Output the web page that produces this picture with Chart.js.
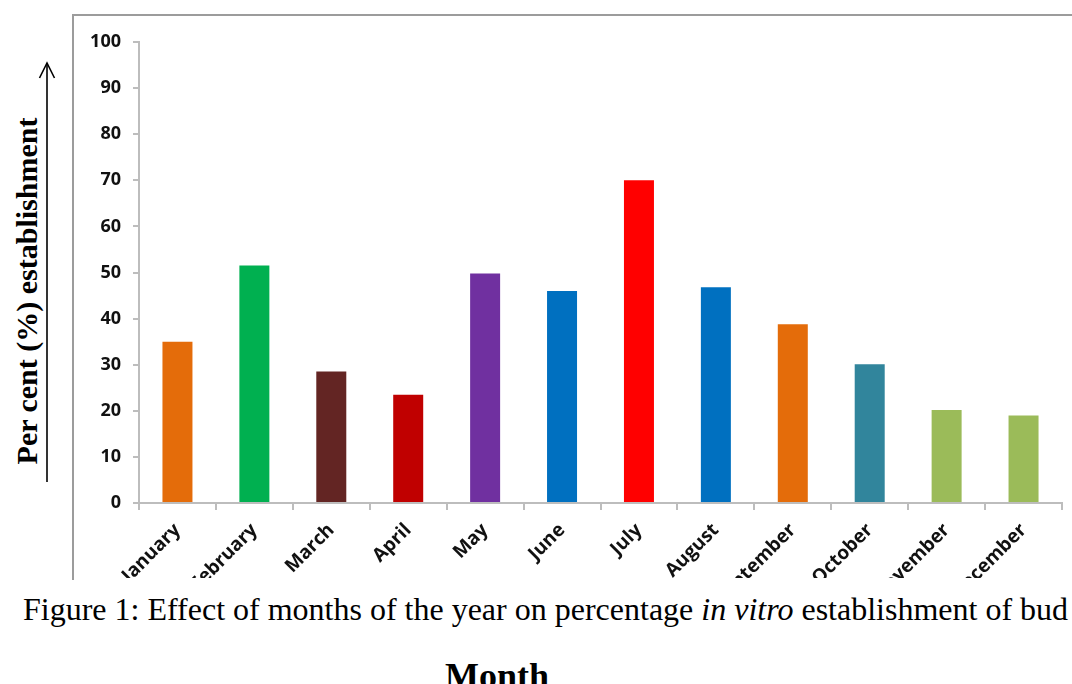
<!DOCTYPE html>
<html>
<head>
<meta charset="utf-8">
<script src="https://cdn.jsdelivr.net/npm/chart.js@4"></script>
<style>
  html, body { margin:0; padding:0; background:#fff; width:1072px; height:684px; overflow:hidden; position:relative; }
  #box { position:absolute; left:72px; top:14px; width:1010px; height:564px; border-left:2px solid #9c9c9c; border-top:2px solid #9c9c9c; overflow:hidden; }
  #c { position:absolute; left:0; top:0; }
  .serif { font-family:"Liberation Serif","Times New Roman",serif; color:#000; position:absolute; white-space:nowrap; line-height:1; }
  #ytitle { left:27px; top:291px; font-size:30px; font-weight:bold; transform:translate(-50%,-50%) rotate(-90deg); }
  #caption { left:23px; top:593px; font-size:32px; }
  #month { left:445px; top:658px; font-size:36px; font-weight:bold; }
  #arrow { position:absolute; left:30px; top:54px; }
</style>
</head>
<body>
<div id="ytitle" class="serif">Per cent (%) establishment</div>
<svg id="arrow" width="34" height="440">
  <line x1="17" y1="9" x2="17" y2="428" stroke="#000" stroke-width="1.6"/>
  <polyline points="9.5,24 17,9 24.5,24" fill="none" stroke="#000" stroke-width="1.6"/>
</svg>
<div id="box"><canvas id="c" width="998" height="562"></canvas></div>
<div id="caption" class="serif">Figure 1: Effect of months of the year on percentage <i>in vitro</i> establishment of bud</div>
<div id="month" class="serif">Month</div>
<script>
const months = ['January','February','March','April','May','June','July','August','September','October','November','December'];
const establishment = [35, 51.5, 28.5, 23.5, 49.8, 46, 70, 46.8, 38.8, 30.1, 20.2, 19];
const barColors = ['#E46C0A','#00B050','#632523','#C00000','#7030A0','#0070C0','#FF0000','#0070C0','#E46C0A','#31859C','#9BBB59','#9BBB59'];
const yMin = 0, yMax = 100, yStep = 10;

const axisGray = '#bdbdbd';

new Chart(document.getElementById('c'), {
  type: 'bar',
  data: {
    labels: months,
    datasets: [{
      data: establishment,
      backgroundColor: barColors,
      borderWidth: 0,
      categoryPercentage: 1,
      barPercentage: 0.39
    }]
  },
  options: {
    responsive: false,
    animation: false,
    layout: { padding: { top: 26, right: 10, left: 0, bottom: 0 } },
    plugins: { legend: { display: false }, tooltip: { enabled: false } },
    scales: {
      x: {
        offset: true,
        grid: { display: true, drawOnChartArea: false, offset: true, tickLength: 7, color: axisGray, lineWidth: 2 },
        border: { color: axisGray, width: 2 },
        ticks: { autoSkip: false, maxRotation: 45, minRotation: 45, font: { family: 'Open Sans', weight: 'bold', size: 19 }, color: '#111', padding: 9 },
        afterFit(s) { s.height = 75; s.paddingLeft = 0; s.paddingRight = 0; }
      },
      y: {
        min: yMin, max: yMax,
        grid: { drawOnChartArea: false, tickLength: 6, color: axisGray, lineWidth: 2 },
        border: { color: axisGray, width: 2 },
        ticks: { stepSize: yStep, font: { family: 'Open Sans', weight: 'bold', size: 18 }, color: '#111', padding: 12 },
        afterFit(s) { s.width = 65; s.paddingTop = 0; s.paddingBottom = 0; }
      }
    }
  }
});
</script>
</body>
</html>
